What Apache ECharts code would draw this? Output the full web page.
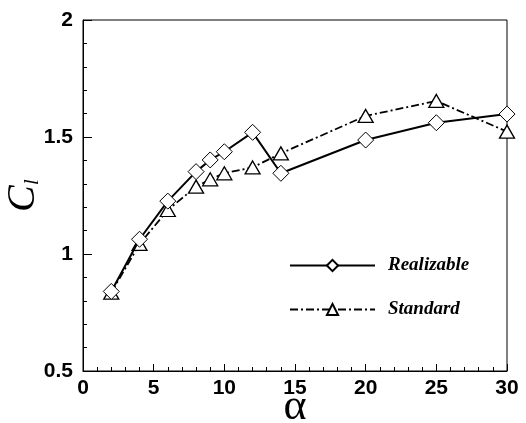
<!DOCTYPE html>
<html>
<head>
<meta charset="utf-8">
<script src="https://cdn.jsdelivr.net/npm/echarts@6/dist/echarts.min.js"></script>
<style>
  html, body { margin: 0; padding: 0; background: #fff; }
  #chart { width: 526px; height: 423px; }
</style>
</head>
<body>
<div id="chart"></div>
<script>
const alpha = [2, 4, 6, 8, 9, 10, 12, 14, 20, 25, 30];
const realizable = [0.84, 1.063, 1.226, 1.352, 1.402, 1.437, 1.52, 1.345, 1.487, 1.561, 1.598];
const standard = [0.835, 1.043, 1.188, 1.288, 1.319, 1.345, 1.37, 1.43, 1.59, 1.654, 1.523];
const seriesNames = ['Realizable', 'Standard'];

const chart = echarts.init(document.getElementById('chart'), null, { renderer: 'canvas' });

const tickFont = { color: '#000', fontFamily: 'Liberation Sans, Arial', fontWeight: 'bold', fontSize: 21 };

chart.setOption({
  animation: false,
  backgroundColor: '#fff',
  grid: {
    left: 83, right: 19, top: 20, bottom: 52,
    outerBoundsMode: 'none', containLabel: false,
    show: true, borderColor: '#000', borderWidth: 1
  },
  legend: {
    orient: 'vertical',
    left: 284,
    top: 251,
    itemWidth: 85,
    itemHeight: 14,
    itemGap: 25,
    data: seriesNames,
    textStyle: {
      color: '#000',
      fontFamily: 'Liberation Serif, Times New Roman',
      fontStyle: 'italic',
      fontWeight: 'bold',
      fontSize: 19,
      padding: [0, 0, 0, 8]
    }
  },
  xAxis: {
    type: 'value',
    min: 0,
    max: 30,
    interval: 5,
    name: 'α',
    nameLocation: 'middle',
    nameMoveOverlap: false,
    nameGap: 14,
    nameTextStyle: { color: '#000', fontFamily: 'Liberation Serif, Times New Roman', fontSize: 44 },
    axisLine: { show: true, lineStyle: { color: '#000', width: 1 } },
    axisTick: { show: true, inside: true, length: 7, lineStyle: { color: '#000' } },
    minorTick: { show: true, splitNumber: 5, length: 4, lineStyle: { color: '#000' } },
    splitLine: { show: false },
    axisLabel: Object.assign({ margin: 7 }, tickFont)
  },
  yAxis: {
    type: 'value',
    min: 0.5,
    max: 2,
    interval: 0.5,
    name: '{c|C}{s|l}',
    nameLocation: 'middle',
    nameMoveOverlap: false,
    nameRotate: 90,
    nameGap: 40,
    nameTextStyle: {
      rich: {
        c: { color: '#000', fontFamily: 'Liberation Serif, Times New Roman', fontStyle: 'italic', fontSize: 40 },
        s: { color: '#000', fontFamily: 'Liberation Serif, Times New Roman', fontStyle: 'italic', fontSize: 22, padding: [18, 0, 0, 0] }
      }
    },
    axisLine: { show: true, lineStyle: { color: '#000', width: 1 } },
    axisTick: { show: true, inside: true, length: 9, lineStyle: { color: '#000' } },
    minorTick: { show: true, splitNumber: 5, length: 4, lineStyle: { color: '#000' } },
    splitLine: { show: false },
    axisLabel: Object.assign({ margin: 10, formatter: v => String(v) }, tickFont)
  },
  series: [
    {
      name: seriesNames[0],
      type: 'line',
      data: alpha.map((a, i) => [a, realizable[i]]),
      symbol: 'diamond',
      symbolSize: 16,
      lineStyle: { color: '#000', width: 2, type: 'solid' },
      itemStyle: { color: '#fff', borderColor: '#000', borderWidth: 1 },
      z: 3
    },
    {
      name: seriesNames[1],
      type: 'line',
      data: alpha.map((a, i) => [a, standard[i]]),
      symbol: 'triangle',
      symbolSize: [15, 13],
      lineStyle: { color: '#000', width: 1.8, type: [8, 3, 2, 3] },
      itemStyle: { color: '#fff', borderColor: '#000', borderWidth: 1.3 },
      z: 2
    }
  ]
});
</script>
</body>
</html>
